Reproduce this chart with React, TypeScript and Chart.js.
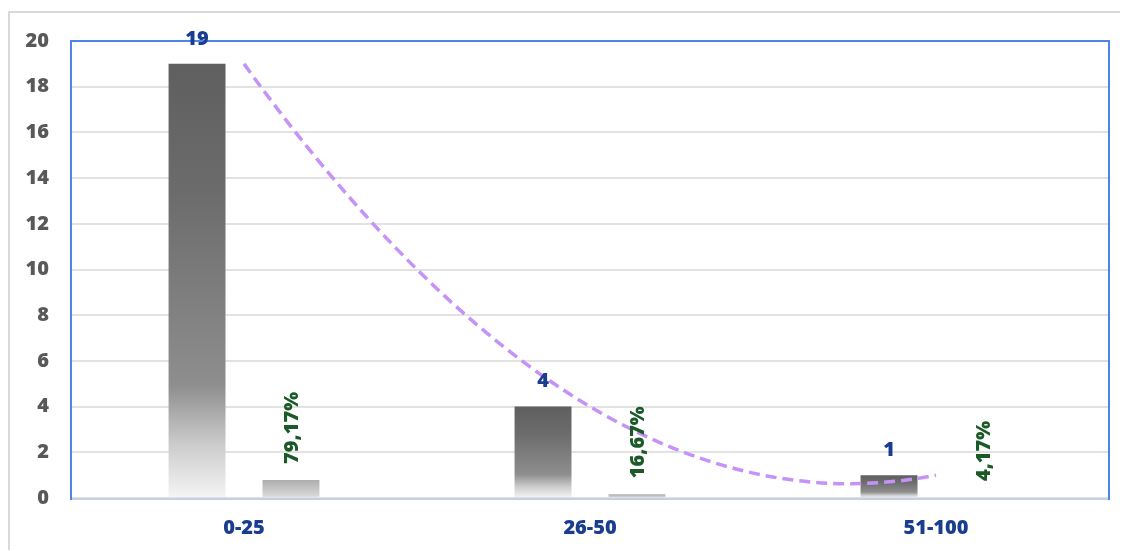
import React, { useEffect, useRef } from "react";
import { Chart, registerables } from "chart.js";

Chart.register(...registerables);

const categories: string[] = ["0-25", "26-50", "51-100"];
const counts: number[] = [19, 4, 1];
const shares: number[] = [0.7917, 0.1667, 0.0417];
const yMin = 0;
const yMax = 20;
const yStep = 2;

const BLUE_TEXT = "#1a3d8f";
const GREEN_TEXT = "#1b5a28";
const FONT = "'Open Sans', 'Noto Sans', sans-serif";
const WEIGHT = "800";

function fmtShare(v: number): string {
  return (v * 100).toFixed(2).replace(".", ",") + "%";
}

// least-squares polynomial (order 2) trendline of counts vs category index
function quadFit(ys: number[]): [number, number, number] {
  const n = ys.length;
  let s0 = 0, s1 = 0, s2 = 0, s3 = 0, s4 = 0, t0 = 0, t1 = 0, t2 = 0;
  for (let i = 0; i < n; i++) {
    const x = i;
    const y = ys[i];
    s0 += 1; s1 += x; s2 += x * x; s3 += x * x * x; s4 += x * x * x * x;
    t0 += y; t1 += x * y; t2 += x * x * y;
  }
  const M = [
    [s4, s3, s2, t2],
    [s3, s2, s1, t1],
    [s2, s1, s0, t0],
  ];
  for (let i = 0; i < 3; i++) {
    let p = i;
    for (let r = i + 1; r < 3; r++) if (Math.abs(M[r][i]) > Math.abs(M[p][i])) p = r;
    [M[i], M[p]] = [M[p], M[i]];
    for (let r = 0; r < 3; r++) {
      if (r === i) continue;
      const f = M[r][i] / M[i][i];
      for (let c = i; c < 4; c++) M[r][c] -= f * M[i][c];
    }
  }
  return [M[0][3] / M[0][0], M[1][3] / M[1][1], M[2][3] / M[2][2]];
}

function barGradient(ctx: any, stops: [number, string][]) {
  const chart = ctx.chart;
  if (!chart.chartArea) return stops[0][1];
  const y = chart.scales.y;
  const v = ctx.raw as number;
  const top = y.getPixelForValue(v);
  const bottom = y.getPixelForValue(0);
  const g = chart.ctx.createLinearGradient(0, top, 0, bottom === top ? top + 1 : bottom);
  stops.forEach(([o, c]) => g.addColorStop(o, c));
  return g;
}

const framePlugin = {
  id: "frame",
  beforeDatasetsDraw(chart: any) {
    const { ctx, chartArea } = chart;
    const { left, top, right, bottom } = chartArea;
    ctx.save();
    ctx.lineWidth = 2;
    ctx.strokeStyle = "#c8cee2";
    ctx.beginPath();
    ctx.moveTo(left, bottom + 1);
    ctx.lineTo(right, bottom + 1);
    ctx.stroke();
    ctx.strokeStyle = "#4a86e8";
    ctx.beginPath();
    ctx.moveTo(left, bottom + 2);
    ctx.lineTo(left, top);
    ctx.lineTo(right, top);
    ctx.lineTo(right, bottom + 2);
    ctx.stroke();
    ctx.restore();
  },
};

const trendPlugin = {
  id: "trend",
  afterDatasetsDraw(chart: any) {
    const { ctx } = chart;
    const xs = chart.scales.x;
    const ys = chart.scales.y;
    const [a, b, c] = quadFit(counts);
    const f = (x: number) => a * x * x + b * x + c;
    const d = (x: number) => 2 * a * x + b;
    const x0 = 0;
    const x2 = counts.length - 1;
    const xm = (x0 + x2) / 2;
    const yc = f(x0) + d(x0) * (xm - x0);
    ctx.save();
    ctx.strokeStyle = "#c592f7";
    ctx.lineWidth = 3.5;
    ctx.setLineDash([11, 6]);
    ctx.beginPath();
    ctx.moveTo(xs.getPixelForValue(x0), ys.getPixelForValue(f(x0)));
    ctx.quadraticCurveTo(
      xs.getPixelForValue(xm),
      ys.getPixelForValue(yc),
      xs.getPixelForValue(x2),
      ys.getPixelForValue(f(x2))
    );
    ctx.stroke();
    ctx.restore();
  },
};

const labelPlugin = {
  id: "labels",
  afterDraw(chart: any) {
    const { ctx } = chart;
    ctx.save();
    ctx.font = `${WEIGHT} 20px ${FONT}`;
    const m0 = chart.getDatasetMeta(0);
    ctx.fillStyle = BLUE_TEXT;
    ctx.textAlign = "center";
    ctx.textBaseline = "middle";
    m0.data.forEach((el: any, i: number) => {
      ctx.fillText(String(counts[i]), el.x, el.y - 25);
    });
    const m1 = chart.getDatasetMeta(1);
    ctx.fillStyle = GREEN_TEXT;
    m1.data.forEach((el: any, i: number) => {
      ctx.save();
      ctx.translate(el.x + 1, el.y - 16);
      ctx.rotate(-Math.PI / 2);
      ctx.textAlign = "left";
      ctx.textBaseline = "middle";
      ctx.fillText(fmtShare(shares[i]), 0, 0);
      ctx.restore();
    });
    ctx.restore();
  },
};

export default function App() {
  const ref = useRef<HTMLCanvasElement | null>(null);

  useEffect(() => {
    document.body.style.overflow = "hidden";
    const canvas = ref.current;
    if (!canvas) return;
    const chart = new Chart(canvas, {
      type: "bar",
      data: {
        labels: categories,
        datasets: [
          {
            label: "Count",
            data: counts,
            backgroundColor: (ctx: any) =>
              barGradient(ctx, [
                [0, "#5f5f5f"],
                [0.3, "#6c6c6c"],
                [0.74, "#8e8e8e"],
                [0.88, "#cdcdcd"],
                [1, "#f5f5f5"],
              ]),
            borderWidth: 0,
            categoryPercentage: 0.543,
            barPercentage: 0.606,
          },
          {
            label: "Share",
            data: shares,
            backgroundColor: (ctx: any) =>
              barGradient(ctx, [
                [0, "#adadad"],
                [0.85, "#d6d6d6"],
                [1, "#e8e8e8"],
              ]),
            borderWidth: 0,
            categoryPercentage: 0.543,
            barPercentage: 0.606,
          },
        ],
      },
      options: {
        responsive: false,
        animation: false,
        layout: { padding: { left: 0, top: 28, right: 19, bottom: 0 } },
        plugins: {
          legend: { display: false },
          tooltip: { enabled: false },
        },
        scales: {
          x: {
            grid: { display: false, drawTicks: false },
            border: { display: false },
            ticks: {
              color: BLUE_TEXT,
              font: { family: FONT, size: 20, weight: WEIGHT },
              padding: 18,
            },
            afterFit: (s: any) => {
              s.height = 53;
              s.paddingLeft = 0;
              s.paddingRight = 0;
            },
          },
          y: {
            min: yMin,
            max: yMax,
            grid: { color: "#e2e2e2", lineWidth: 2, drawTicks: false },
            border: { display: false },
            ticks: {
              stepSize: yStep,
              color: "#595959",
              font: { family: FONT, size: 20, weight: WEIGHT },
              padding: 22,
            },
            afterFit: (s: any) => {
              s.width = 61;
              s.paddingTop = 0;
              s.paddingBottom = 0;
            },
          },
        },
      },
      plugins: [framePlugin, trendPlugin, labelPlugin],
    });
    return () => chart.destroy();
  }, []);

  return (
    <div
      style={{
        position: "relative",
        top: 3,
        width: 1120,
        height: 540,
        borderLeft: "2px solid #d9d9d9",
        borderTop: "2px solid #d9d9d9",
        overflow: "hidden",
        background: "#ffffff",
      }}
    >
      <canvas ref={ref} width={1118} height={538} style={{ display: "block" }} />
    </div>
  );
}
